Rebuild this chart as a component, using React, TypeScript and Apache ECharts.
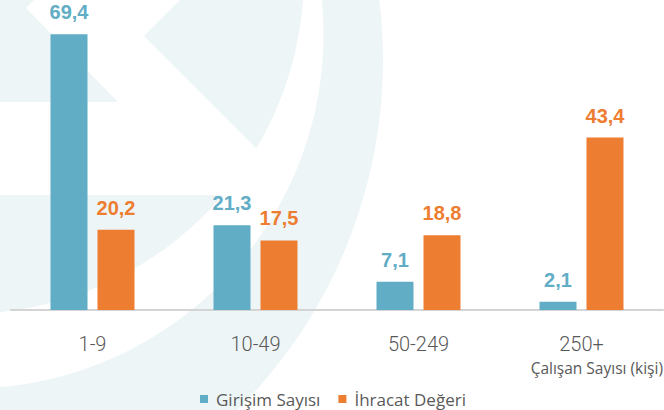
import React, { useEffect, useRef } from "react";
import * as echarts from "echarts";

const categories = ["1-9", "10-49", "50-249", "250+"];
const girisimSayisi = [69.4, 21.3, 7.1, 2.1];
const ihracatDegeri = [20.2, 17.5, 18.8, 43.4];
const seriesNames = ["Girişim Sayısı", "İhracat Değeri"];
const axisTitle = "Çalışan Sayısı (kişi)";

const BLUE = "#62adc6";
const ORANGE = "#ed7d31";
const LIGHT = "#edf5f7";
const TEXT = "#595959";

export default function App() {
  const ref = useRef<HTMLDivElement>(null);
  useEffect(() => {
    document.body.style.margin = "0";
    if (!ref.current) return;
    const chart = echarts.init(ref.current, undefined, { renderer: "svg" });
    const fmt = (p: any) => String(p.value).replace(".", ",");
    const label = (color: string) => ({
      show: true,
      position: "top",
      distance: 12,
      formatter: fmt,
      color,
      fontFamily: "Liberation Sans",
      fontWeight: "bold",
      fontSize: 20,
    });
    chart.setOption({
      animation: false,
      backgroundColor: "#ffffff",
      graphic: [
        { type: "circle", z: 0, silent: true, shape: { cx: -110, cy: 60, r: 493 }, style: { fill: LIGHT } },
        { type: "circle", z: 0, silent: true, shape: { cx: -31, cy: 34, r: 354.5 }, style: { fill: "#ffffff" } },
        { type: "circle", z: 0, silent: true, shape: { cx: -35, cy: -25, r: 339 }, style: { fill: LIGHT } },
        {
          type: "polygon",
          z: 0,
          silent: true,
          shape: {
            points: [
              [44, -10], [190, -10], [144, 36], [280, 172], [280, 195],
              [-10, 195], [-10, 102], [118, 102], [26, 8],
            ],
          },
          style: { fill: "#ffffff" },
        },
        {
          type: "text",
          z: 5,
          x: 663,
          y: 368,
          style: {
            text: axisTitle,
            align: "right",
            verticalAlign: "middle",
            fontFamily: "Open Sans",
            fontSize: 15.5,
            fill: TEXT,
          },
        },
      ],
      legend: {
        data: seriesNames,
        left: 200,
        top: 390,
        padding: 0,
        itemWidth: 8,
        itemHeight: 8,
        itemGap: 18,
        icon: "rect",
        textStyle: {
          color: TEXT,
          fontFamily: "Open Sans",
          fontSize: 17,
          lineHeight: 18,
          padding: [0, 0, 0, 3],
        },
      },
      grid: { left: 11, right: 1, top: 12, bottom: 100, containLabel: false },
      xAxis: {
        type: "category",
        data: categories,
        axisLine: { lineStyle: { color: "#d4d4d4", width: 2 } },
        axisTick: { show: false },
        axisLabel: {
          margin: 24,
          color: TEXT,
          fontFamily: "Roboto",
          fontWeight: 300,
          fontSize: 20,
        },
      },
      yAxis: { type: "value", min: 0, max: 75, show: false, splitLine: { show: false } },
      series: [
        {
          name: seriesNames[0],
          type: "bar",
          data: girisimSayisi,
          barWidth: 37,
          barGap: "27%",
          itemStyle: { color: BLUE },
          label: label(BLUE),
        },
        {
          name: seriesNames[1],
          type: "bar",
          data: ihracatDegeri,
          barWidth: 37,
          barGap: "27%",
          itemStyle: { color: ORANGE },
          label: label(ORANGE),
        },
      ],
    });
    return () => chart.dispose();
  }, []);
  return <div ref={ref} style={{ width: 664, height: 410 }} />;
}
